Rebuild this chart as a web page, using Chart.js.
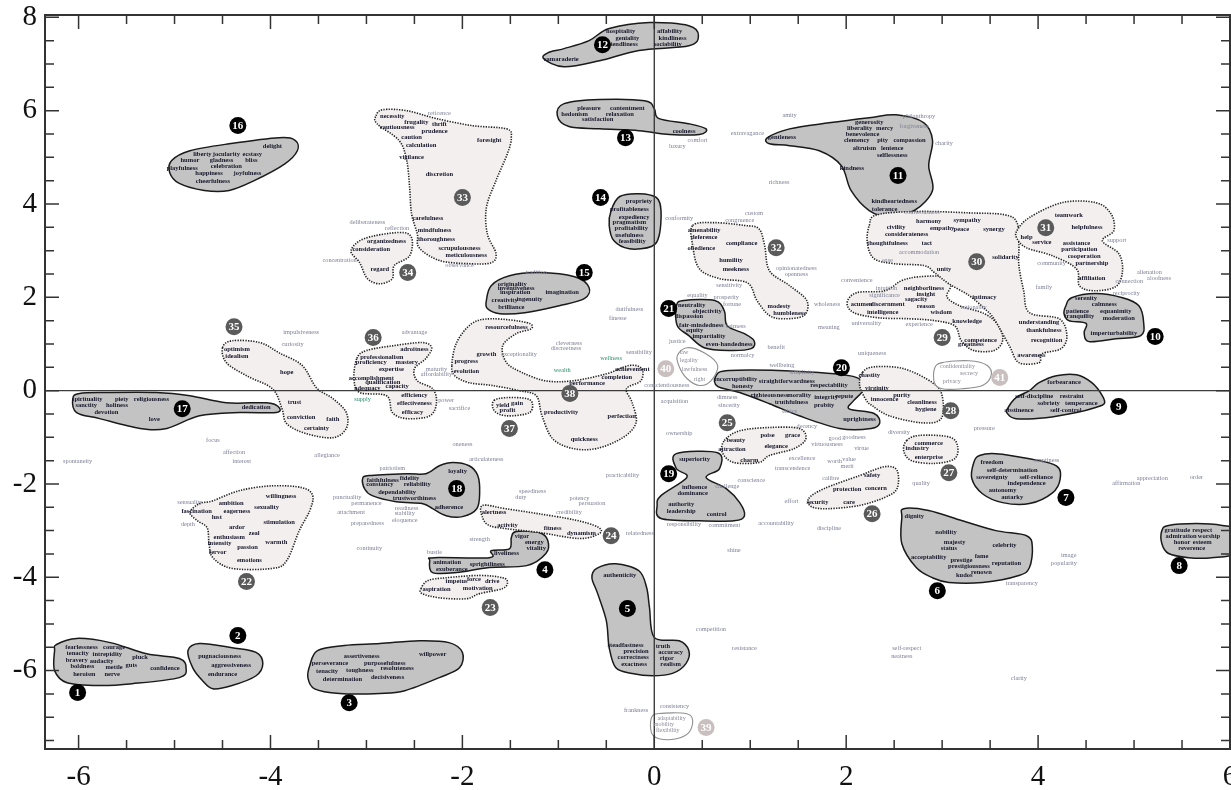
<!DOCTYPE html>
<html>
<head>
<meta charset="utf-8">
<script src="https://cdn.jsdelivr.net/npm/chart.js@4.4.1/dist/chart.umd.min.js"></script>
<style>
html,body{margin:0;padding:0;background:#fff;overflow:hidden}
canvas{display:block}
</style>
</head>
<body>
<canvas id="map" width="1231" height="790"></canvas>
<script>
// axis ranges and tick labels
const xRange = [-6.35, 6.0];
const yRange = [-7.68, 8.05];
const xTicks = [-6, -4, -2, 0, 2, 4, 6];
const yTicks = [-6, -4, -2, 0, 2, 4, 6, 8];

// cluster badges (number, x, y)
const badgeNumbers = [1,2,3,4,5,6,7,8,9,10,11,12,13,14,15,16,17,18,19,20,21,22,23,24,25,26,27,28,29,30,31,32,33,34,35,36,37,38,39,40,41];
const badgeX = [-6.01,-4.34,-3.18,-1.14,-0.28,2.95,4.29,5.47,4.84,5.22,2.54,-0.54,-0.30,-0.56,-0.73,-4.34,-4.92,-2.06,0.15,1.95,0.15,-4.25,-1.71,-0.45,0.76,2.27,3.07,3.09,3.00,3.36,4.08,1.27,-2.00,-2.57,-4.38,-2.93,-1.51,-0.88,0.54,0.12,3.60];
const badgeY = [-6.47,-5.25,-6.69,-3.84,-4.67,-4.29,-2.29,-3.75,-0.34,1.16,4.61,7.41,5.42,4.14,2.53,5.68,-0.39,-2.10,-1.78,0.49,1.76,-4.09,-4.65,-3.11,-0.69,-2.64,-1.76,-0.43,1.14,2.76,3.49,3.06,4.14,2.53,1.37,1.14,-0.81,-0.06,-7.22,0.47,0.28];

// cluster outlines in data units
const outline1 = [[-6.23,-5.44],[-6.02,-5.31],[-5.67,-5.40],[-5.29,-5.64],[-4.95,-5.74],[-4.88,-5.94],[-4.95,-6.15],[-5.44,-6.28],[-5.78,-6.32],[-6.12,-6.26],[-6.25,-6.00],[-6.25,-5.57]];
const outline2 = [[-4.86,-5.57],[-4.74,-5.42],[-4.40,-5.51],[-4.15,-5.61],[-4.08,-5.85],[-4.15,-6.11],[-4.40,-6.32],[-4.60,-6.39],[-4.71,-6.21],[-4.81,-5.94]];
const outline3 = [[-3.59,-5.89],[-3.51,-5.57],[-3.23,-5.46],[-2.86,-5.42],[-2.45,-5.36],[-2.14,-5.40],[-2.00,-5.61],[-2.03,-5.94],[-2.24,-6.15],[-2.60,-6.43],[-2.86,-6.49],[-3.28,-6.49],[-3.54,-6.39],[-3.61,-6.15]];
const outline4 = [[-2.34,-3.64],[-2.29,-3.58],[-1.72,-3.58],[-1.70,-3.43],[-1.51,-3.39],[-1.49,-3.15],[-1.44,-3.02],[-1.20,-3.04],[-1.11,-3.21],[-1.13,-3.49],[-1.33,-3.75],[-1.72,-3.79],[-2.06,-3.90],[-2.31,-3.90]];
const outline5 = [[-0.60,-3.81],[-0.40,-3.71],[-0.16,-3.86],[-0.08,-4.22],[-0.05,-4.65],[0.00,-5.29],[0.26,-5.36],[0.36,-5.57],[0.33,-5.85],[0.19,-6.06],[-0.02,-6.11],[-0.23,-6.06],[-0.40,-5.94],[-0.47,-5.51],[-0.50,-4.93],[-0.59,-4.35],[-0.65,-4.01]];
const outline6 = [[2.60,-2.53],[2.86,-2.57],[3.21,-2.79],[3.56,-3.00],[3.88,-3.11],[3.94,-3.36],[3.91,-3.79],[3.80,-3.96],[3.42,-4.11],[3.07,-4.11],[2.90,-4.01],[2.73,-3.79],[2.58,-3.28],[2.58,-2.72]];
const outline7 = [[3.39,-1.39],[3.56,-1.35],[3.91,-1.46],[4.19,-1.61],[4.23,-1.89],[4.15,-2.19],[3.91,-2.42],[3.63,-2.40],[3.42,-2.21],[3.31,-1.89],[3.33,-1.54]];
const outline8 = [[5.29,-3.00],[5.36,-2.89],[5.65,-2.85],[5.92,-2.89],[6.08,-3.00],[6.08,-3.47],[5.81,-3.58],[5.57,-3.58],[5.36,-3.49],[5.29,-3.28]];
const outline9 = [[3.68,-0.39],[3.77,-0.15],[3.91,0.00],[4.01,0.17],[4.19,0.32],[4.40,0.34],[4.56,0.17],[4.67,-0.11],[4.69,-0.28],[4.60,-0.36],[4.40,-0.47],[4.08,-0.58],[3.77,-0.60],[3.68,-0.49]];
const outline10 = [[4.29,1.82],[4.35,1.99],[4.60,2.08],[4.88,1.99],[5.05,1.82],[5.10,1.46],[5.07,1.18],[4.81,1.11],[4.53,1.05],[4.48,1.24],[4.50,1.44],[4.32,1.50],[4.27,1.65]];
const outline11 = [[1.18,5.42],[1.41,5.61],[1.82,5.74],[2.24,5.85],[2.52,5.91],[2.81,5.74],[2.90,5.36],[2.86,4.82],[2.90,4.29],[2.71,3.86],[2.45,3.73],[2.24,3.86],[2.05,4.29],[1.95,4.82],[1.72,5.14],[1.41,5.25],[1.20,5.29]];
const outline12 = [[-1.15,7.11],[-0.94,6.94],[-0.57,7.07],[-0.16,7.29],[0.36,7.39],[0.46,7.61],[0.36,7.82],[-0.05,7.89],[-0.47,7.76],[-0.68,7.50],[-0.94,7.33],[-1.11,7.24]];
const outline13 = [[-1.01,5.89],[-0.94,6.15],[-0.57,6.24],[-0.10,6.21],[0.00,6.04],[0.05,5.83],[0.36,5.72],[0.54,5.61],[0.47,5.49],[0.16,5.49],[-0.16,5.57],[-0.57,5.61],[-0.89,5.66]];
const outline14 = [[-0.45,3.86],[-0.36,4.16],[-0.16,4.22],[0.02,4.14],[0.07,3.86],[0.05,3.32],[-0.03,3.09],[-0.26,3.04],[-0.42,3.21],[-0.47,3.54]];
const outline15 = [[-1.75,1.93],[-1.70,2.25],[-1.51,2.46],[-1.20,2.53],[-0.83,2.44],[-0.68,2.21],[-0.73,1.97],[-0.99,1.82],[-1.35,1.67],[-1.61,1.65],[-1.74,1.76]];
const outline16 = [[-5.03,4.93],[-4.84,5.14],[-4.43,5.29],[-3.91,5.42],[-3.74,5.36],[-3.72,5.14],[-3.85,4.86],[-4.17,4.50],[-4.43,4.29],[-4.69,4.29],[-4.95,4.44],[-5.05,4.67]];
const outline17 = [[-6.06,-0.17],[-5.99,-0.06],[-5.71,-0.04],[-5.19,-0.04],[-4.84,-0.11],[-4.46,-0.26],[-4.04,-0.26],[-3.92,-0.34],[-3.94,-0.47],[-4.32,-0.47],[-4.74,-0.54],[-5.08,-0.81],[-5.36,-0.81],[-5.78,-0.60],[-6.02,-0.47]];
const outline18 = [[-3.04,-1.89],[-2.97,-1.82],[-2.58,-1.78],[-2.38,-1.78],[-2.24,-1.61],[-2.10,-1.54],[-1.93,-1.61],[-1.84,-1.82],[-1.82,-2.19],[-1.85,-2.53],[-2.00,-2.70],[-2.17,-2.68],[-2.31,-2.53],[-2.42,-2.42],[-2.69,-2.38],[-2.94,-2.25],[-3.02,-2.10]];
const outline19 = [[0.23,-1.35],[0.66,-1.33],[0.68,-1.67],[0.54,-1.86],[0.75,-2.10],[0.89,-2.40],[0.94,-2.68],[0.83,-2.79],[0.47,-2.79],[0.07,-2.74],[0.03,-2.46],[0.07,-2.25],[0.34,-1.86],[0.23,-1.67]];
const outline20 = [[0.64,0.30],[0.78,0.43],[1.51,0.41],[2.08,0.30],[2.18,0.04],[2.08,-0.21],[2.03,-0.39],[2.29,-0.49],[2.35,-0.69],[2.26,-0.81],[1.93,-0.81],[1.51,-0.54],[1.20,-0.28],[0.89,-0.04],[0.66,0.09]];
const outline21 = [[0.23,1.82],[0.31,1.93],[0.63,1.93],[0.73,1.71],[0.76,1.39],[0.94,1.22],[1.04,1.07],[1.01,0.90],[0.78,0.86],[0.52,0.92],[0.36,1.18],[0.24,1.39]];
const outline22 = [[-4.84,-2.61],[-4.74,-2.42],[-4.60,-2.36],[-4.32,-2.14],[-3.98,-2.04],[-3.67,-2.08],[-3.56,-2.25],[-3.59,-2.57],[-3.70,-3.00],[-3.83,-3.64],[-3.98,-3.81],[-4.40,-3.81],[-4.60,-3.58],[-4.64,-3.28],[-4.66,-2.94],[-4.76,-2.79]];
const outline23 = [[-2.43,-4.24],[-2.36,-4.07],[-2.17,-4.01],[-1.82,-3.96],[-1.58,-4.01],[-1.53,-4.11],[-1.58,-4.24],[-1.82,-4.35],[-1.96,-4.46],[-2.24,-4.44],[-2.42,-4.35]];
const outline24 = [[-1.79,-2.46],[-1.55,-2.53],[-1.20,-2.64],[-0.83,-2.77],[-0.59,-2.92],[-0.57,-3.06],[-0.78,-3.17],[-1.20,-3.04],[-1.54,-2.96],[-1.72,-2.89],[-1.79,-2.72]];
const outline25 = [[0.73,-1.07],[0.89,-0.86],[1.20,-0.79],[1.51,-0.81],[1.58,-1.03],[1.46,-1.24],[1.20,-1.39],[1.09,-1.54],[0.83,-1.54],[0.71,-1.33]];
const outline26 = [[1.61,-2.31],[1.77,-2.10],[2.14,-1.82],[2.40,-1.63],[2.53,-1.71],[2.53,-2.10],[2.40,-2.29],[2.14,-2.46],[1.82,-2.53],[1.64,-2.49]];
const outline27 = [[2.63,-1.07],[2.76,-0.96],[3.07,-0.99],[3.16,-1.18],[3.13,-1.46],[2.92,-1.56],[2.68,-1.50],[2.60,-1.29]];
const outline28 = [[2.17,0.39],[2.29,0.51],[2.60,0.47],[2.90,0.17],[3.00,-0.11],[2.99,-0.60],[2.79,-0.69],[2.45,-0.54],[2.27,-0.32],[2.21,-0.21],[2.14,0.11]];
const outline29 = [[2.01,1.89],[2.11,2.10],[2.40,2.14],[2.58,2.36],[2.76,2.44],[3.02,2.44],[3.09,2.25],[3.05,2.01],[3.18,1.82],[3.44,1.65],[3.59,1.39],[3.63,1.07],[3.54,0.86],[3.33,0.86],[3.20,1.07],[3.13,1.39],[2.92,1.50],[2.66,1.54],[2.34,1.56],[2.08,1.67]];
const outline30 = [[2.24,3.54],[2.32,3.77],[2.76,3.84],[3.28,3.81],[3.65,3.77],[3.78,3.60],[3.80,3.11],[3.80,2.68],[3.85,2.14],[3.91,1.67],[4.22,1.54],[4.30,1.18],[4.24,0.90],[4.04,0.79],[4.01,0.60],[3.80,0.60],[3.70,0.96],[3.54,1.54],[3.44,1.76],[3.28,2.04],[3.07,2.29],[2.92,2.53],[2.81,2.68],[2.50,2.72],[2.29,2.83],[2.22,3.17]];
const outline31 = [[3.78,3.43],[3.91,3.71],[4.25,4.03],[4.60,4.03],[4.76,3.79],[4.79,3.43],[4.67,3.21],[4.84,2.94],[4.88,2.57],[4.81,2.23],[4.58,2.14],[4.43,2.25],[4.40,2.61],[4.15,2.89],[3.88,3.06],[3.78,3.26]];
const outline32 = [[0.40,3.54],[0.63,3.60],[0.94,3.54],[1.09,3.47],[1.15,3.11],[1.20,2.57],[1.41,2.25],[1.59,1.93],[1.56,1.61],[1.35,1.54],[1.20,1.61],[1.07,1.93],[0.97,2.31],[0.68,2.40],[0.47,2.61],[0.40,3.11]];
const outline33 = [[-2.90,5.89],[-2.83,6.02],[-2.58,6.00],[-2.27,5.83],[-1.90,5.68],[-1.54,5.61],[-1.49,5.42],[-1.53,5.08],[-1.65,4.50],[-1.75,3.92],[-1.74,3.36],[-1.65,2.94],[-1.70,2.74],[-1.93,2.72],[-2.24,2.79],[-2.45,3.06],[-2.47,3.36],[-2.53,3.79],[-2.55,4.35],[-2.58,4.93],[-2.66,5.36],[-2.89,5.72]];
const outline34 = [[-3.16,3.00],[-3.02,3.26],[-2.66,3.39],[-2.53,3.28],[-2.55,2.89],[-2.71,2.68],[-2.73,2.40],[-2.86,2.29],[-2.99,2.40],[-3.07,2.74]];
const outline35 = [[-4.50,0.92],[-4.40,1.07],[-4.11,1.03],[-3.91,0.81],[-3.67,0.54],[-3.52,0.06],[-3.35,-0.17],[-3.21,-0.47],[-3.21,-0.81],[-3.35,-1.01],[-3.63,-0.92],[-3.83,-0.71],[-3.88,-0.39],[-3.98,0.04],[-4.25,0.32],[-4.46,0.60]];
const outline36 = [[-3.10,0.69],[-3.00,0.86],[-2.73,0.96],[-2.42,1.03],[-2.32,0.92],[-2.38,0.69],[-2.50,0.47],[-2.47,0.21],[-2.31,0.04],[-2.27,-0.26],[-2.34,-0.54],[-2.58,-0.60],[-2.73,-0.47],[-2.79,-0.11],[-3.07,-0.04],[-3.13,0.26]];
const outline37 = [[-1.67,-0.21],[-1.54,-0.15],[-1.33,-0.17],[-1.27,-0.28],[-1.30,-0.47],[-1.48,-0.54],[-1.61,-0.51],[-1.68,-0.39]];
const outline38 = [[-2.11,0.54],[-2.06,1.03],[-1.90,1.44],[-1.69,1.54],[-1.33,1.46],[-1.28,1.33],[-1.44,1.22],[-1.58,0.96],[-1.54,0.60],[-1.38,0.39],[-1.13,0.21],[-0.85,0.21],[-0.50,0.36],[-0.26,0.54],[-0.13,0.47],[-0.14,0.21],[-0.29,0.04],[-0.23,-0.26],[-0.19,-0.69],[-0.33,-1.01],[-0.60,-1.24],[-0.85,-1.24],[-1.06,-1.03],[-1.17,-0.54],[-1.23,-0.11],[-1.41,0.00],[-1.69,0.11],[-1.93,0.17],[-2.08,0.32]];
const outline39 = [[-0.03,-7.01],[0.05,-6.92],[0.33,-6.92],[0.40,-7.07],[0.36,-7.33],[0.23,-7.46],[0.05,-7.46],[-0.03,-7.33]];
const outline40 = [[0.24,0.75],[0.34,0.92],[0.52,0.81],[0.66,0.54],[0.59,0.21],[0.47,0.11],[0.34,0.26],[0.26,0.51]];
const outline41 = [[2.92,0.47],[3.00,0.60],[3.28,0.64],[3.47,0.54],[3.51,0.32],[3.42,0.11],[3.21,0.04],[3.00,0.04],[2.92,0.17]];

// words inside each cluster: [word, x, y]
const words1 = [["fearlessness",-5.97,-5.51],["courage",-5.63,-5.51],["tenacity",-6.01,-5.64],["intrepidity",-5.70,-5.66],["bravery",-6.02,-5.79],["audacity",-5.76,-5.81],["pluck",-5.36,-5.72],["boldness",-5.96,-5.91],["mettle",-5.63,-5.94],["guts",-5.45,-5.89],["confidence",-5.10,-5.96],["heroism",-5.94,-6.09],["nerve",-5.65,-6.09]];
const words2 = [["pugnaciousness",-4.53,-5.70],["aggressiveness",-4.41,-5.89],["endurance",-4.50,-6.09]];
const words3 = [["assertiveness",-3.05,-5.70],["willpower",-2.31,-5.66],["perseverance",-3.38,-5.85],["purposefulness",-2.81,-5.85],["tenacity",-3.41,-6.02],["toughness",-3.07,-6.00],["resoluteness",-2.68,-5.96],["determination",-3.25,-6.19],["decisiveness",-2.78,-6.15]];
const words4 = [["vigor",-1.38,-3.13],["energy",-1.25,-3.26],["vitality",-1.23,-3.39],["liveliness",-1.54,-3.49],["animation",-2.16,-3.69],["exuberance",-2.11,-3.84],["sprightliness",-1.74,-3.73]];
const words5 = [["authenticity",-0.36,-3.96],["steadfastness",-0.30,-5.46],["precision",-0.19,-5.59],["truth",0.09,-5.49],["accuracy",0.17,-5.61],["correctness",-0.22,-5.72],["rigor",0.13,-5.74],["exactness",-0.21,-5.87],["realism",0.17,-5.87]];
const words6 = [["dignity",2.71,-2.70],["nobility",3.04,-3.04],["majesty",3.13,-3.26],["status",3.07,-3.39],["celebrity",3.65,-3.32],["acceptability",2.86,-3.58],["prestige",3.20,-3.64],["fame",3.41,-3.56],["reputation",3.67,-3.71],["prestigiousness",3.28,-3.77],["kudos",3.23,-3.96],["renown",3.41,-3.90]];
const words7 = [["freedom",3.52,-1.54],["self-determination",3.73,-1.71],["sovereignty",3.52,-1.86],["self-reliance",3.98,-1.86],["independence",3.88,-1.99],["autonomy",3.63,-2.14],["autarky",3.73,-2.29]];
const words8 = [["gratitude",5.45,-3.00],["respect",5.71,-3.00],["admiration",5.49,-3.13],["worship",5.78,-3.13],["honor",5.50,-3.26],["esteem",5.71,-3.26],["reverence",5.60,-3.39]];
const words9 = [["forbearance",4.27,0.17],["self-discipline",3.96,-0.13],["restraint",4.35,-0.13],["sobriety",4.11,-0.28],["temperance",4.45,-0.28],["abstinence",3.80,-0.43],["self-control",4.29,-0.43]];
const words10 = [["serenity",4.50,1.97],["calmness",4.69,1.84],["patience",4.41,1.71],["equanimity",4.81,1.71],["tranquility",4.43,1.59],["moderation",4.84,1.54],["imperturbability",4.79,1.22]];
const words11 = [["generosity",2.24,5.74],["liberality",2.14,5.62],["mercy",2.40,5.62],["benevolence",2.17,5.49],["clemency",2.11,5.36],["pity",2.38,5.36],["compassion",2.66,5.36],["altruism",2.19,5.19],["lenience",2.48,5.19],["selflessness",2.48,5.04],["kindness",2.06,4.76],["gentleness",1.33,5.42],["kindheartedness",2.50,4.05],["tolerance",2.40,3.88]];
const words12 = [["camaraderie",-0.97,7.11],["hospitality",-0.35,7.69],["affability",0.16,7.71],["geniality",-0.28,7.56],["kindliness",0.19,7.56],["friendliness",-0.34,7.43],["sociability",0.14,7.43]];
const words13 = [["pleasure",-0.68,6.06],["contentment",-0.28,6.06],["hedonism",-0.83,5.93],["relaxation",-0.36,5.93],["satisfaction",-0.59,5.81],["coolness",0.31,5.55]];
const words14 = [["propriety",-0.16,4.05],["profitableness",-0.26,3.88],["expediency",-0.21,3.71],["pragmatism",-0.26,3.60],["profitability",-0.24,3.47],["usefulness",-0.26,3.32],["feasibility",-0.23,3.19]];
const words15 = [["originality",-1.48,2.27],["inventiveness",-1.44,2.19],["inspiration",-1.45,2.10],["imagination",-0.96,2.10],["creativity",-1.56,1.93],["ingenuity",-1.30,1.95],["brilliance",-1.49,1.78]];
const words16 = [["delight",-3.98,5.23],["liberty",-4.71,5.06],["jocularity",-4.46,5.06],["ecstasy",-4.19,5.06],["humor",-4.84,4.93],["gladness",-4.51,4.93],["bliss",-4.20,4.93],["playfulness",-4.92,4.76],["celebration",-4.46,4.80],["happiness",-4.64,4.65],["joyfulness",-4.24,4.65],["cheerfulness",-4.60,4.48]];
const words17 = [["spirituality",-5.91,-0.19],["piety",-5.55,-0.19],["religiousness",-5.24,-0.19],["sanctity",-5.92,-0.32],["holiness",-5.60,-0.32],["devotion",-5.71,-0.47],["love",-5.21,-0.62],["dedication",-4.15,-0.36]];
const words18 = [["faithfulness",-2.83,-1.93],["fidelity",-2.55,-1.89],["constancy",-2.86,-2.01],["reliability",-2.47,-2.01],["loyalty",-2.05,-1.74],["dependability",-2.68,-2.19],["trustworthiness",-2.50,-2.31],["adherence",-2.14,-2.51]];
const words19 = [["superiority",0.42,-1.48],["influence",0.42,-2.08],["dominance",0.40,-2.21],["authority",0.28,-2.44],["leadership",0.28,-2.59],["control",0.65,-2.66]];
const words20 = [["incorruptibility",0.85,0.24],["honesty",0.92,0.09],["straightforwardness",1.38,0.19],["respectability",1.82,0.11],["righteousness",1.20,-0.09],["morality",1.51,-0.09],["integrity",1.79,-0.15],["repute",1.98,-0.13],["truthfulness",1.43,-0.26],["probity",1.77,-0.32],["uprightness",2.14,-0.62]];
const words21 = [["neutrality",0.39,1.82],["objectivity",0.55,1.69],["dispassion",0.36,1.59],["fair-mindedness",0.49,1.41],["equity",0.42,1.29],["impartiality",0.57,1.16],["even-handedness",0.78,0.99]];
const words22 = [["willingness",-3.89,-2.27],["ambition",-4.41,-2.42],["sexuality",-4.04,-2.51],["fascination",-4.77,-2.59],["eagerness",-4.35,-2.59],["lust",-4.56,-2.72],["stimulation",-3.91,-2.83],["ardor",-4.35,-2.94],["zeal",-4.17,-3.06],["enthusiasm",-4.43,-3.15],["intensity",-4.53,-3.28],["warmth",-3.94,-3.26],["passion",-4.24,-3.36],["fervor",-4.55,-3.47],["emotions",-4.22,-3.64]];
const words23 = [["aspiration",-2.27,-4.26],["impetus",-2.06,-4.09],["force",-1.88,-4.05],["drive",-1.69,-4.09],["motivation",-1.84,-4.24]];
const words24 = [["alertness",-1.67,-2.61],["activity",-1.53,-2.89],["fitness",-1.06,-2.96],["dynamism",-0.76,-3.06]];
const words25 = [["poise",1.18,-0.96],["grace",1.44,-0.96],["beauty",0.85,-1.07],["elegance",1.27,-1.20],["attraction",0.81,-1.26],["charm",0.99,-1.50]];
const words26 = [["safety",2.27,-1.82],["protection",2.01,-2.12],["security",1.70,-2.40],["care",2.03,-2.40],["concern",2.31,-2.10]];
const words27 = [["commerce",2.86,-1.14],["industry",2.74,-1.24],["enterprise",2.86,-1.44]];
const words28 = [["chastity",2.24,0.32],["virginity",2.32,0.06],["innocence",2.40,-0.19],["purity",2.58,-0.11],["cleanliness",2.79,-0.26],["hygiene",2.83,-0.39]];
const words29 = [["neighborliness",2.81,2.19],["insight",2.83,2.06],["sagacity",2.73,1.95],["acumen",2.16,1.84],["discernment",2.43,1.84],["reason",2.83,1.80],["intelligence",2.38,1.67],["wisdom",2.99,1.67],["knowledge",3.26,1.48],["competence",3.40,1.07],["greatness",3.30,0.99]];
const words30 = [["civility",2.52,3.49],["considerateness",2.63,3.36],["thoughtfulness",2.43,3.15],["tact",2.84,3.15],["harmony",2.86,3.62],["empathy",3.00,3.47],["sympathy",3.26,3.64],["peace",3.20,3.45],["synergy",3.54,3.45],["unity",3.02,2.61],["solidarity",3.66,2.85],["intimacy",3.44,1.99],["understanding",4.01,1.46],["thankfulness",4.06,1.29],["recognition",4.09,1.07],["awareness",3.93,0.75]];
const words31 = [["teamwork",4.32,3.75],["helpfulness",4.51,3.51],["help",3.88,3.28],["service",4.04,3.17],["assistance",4.40,3.15],["participation",4.43,3.02],["cooperation",4.48,2.87],["partnership",4.56,2.72],["affiliation",4.56,2.40]];
const words32 = [["amenability",0.52,3.43],["deference",0.52,3.28],["compliance",0.91,3.15],["obedience",0.49,3.04],["humility",0.80,2.79],["meekness",0.85,2.61],["modesty",1.30,1.80],["humbleness",1.41,1.65]];
const words33 = [["necessity",-2.73,5.87],["frugality",-2.48,5.74],["thrift",-2.24,5.70],["cautiousness",-2.68,5.64],["prudence",-2.29,5.55],["caution",-2.53,5.42],["calculation",-2.43,5.25],["foresight",-1.72,5.36],["vigilance",-2.53,4.99],["discretion",-2.24,4.63],["carefulness",-2.36,3.69],["mindfulness",-2.29,3.43],["thoroughness",-2.27,3.24],["scrupulousness",-2.03,3.06],["meticulousness",-1.96,2.91]];
const words34 = [["organizedness",-2.79,3.21],["consideration",-2.95,3.02],["regard",-2.86,2.59]];
const words35 = [["optimism",-4.35,0.88],["idealism",-4.35,0.73],["hope",-3.83,0.39],["trust",-3.75,-0.26],["conviction",-3.68,-0.58],["faith",-3.35,-0.62],["certainty",-3.52,-0.81]];
const words36 = [["adroitness",-2.50,0.88],["professionalism",-2.84,0.71],["proficiency",-2.95,0.60],["mastery",-2.58,0.60],["expertise",-2.74,0.45],["accomplishment",-2.95,0.26],["qualification",-2.83,0.17],["capacity",-2.68,0.09],["adequacy",-2.99,0.04],["efficiency",-2.50,-0.11],["effectiveness",-2.50,-0.28],["efficacy",-2.52,-0.47]];
const words37 = [["yield",-1.58,-0.32],["gain",-1.43,-0.28],["profit",-1.53,-0.43]];
const words38 = [["resourcefulness",-1.54,1.35],["growth",-1.75,0.77],["progress",-1.96,0.62],["evolution",-1.96,0.41],["achievement",-0.23,0.45],["completion",-0.39,0.28],["performance",-0.70,0.15],["productivity",-0.97,-0.47],["perfection",-0.34,-0.54],["quickness",-0.73,-1.05]];
const words39 = [["adaptability",0.18,-7.03],["mobility",0.10,-7.16],["flexibility",0.14,-7.29]];
const words40 = [["law",0.31,0.81],["legality",0.36,0.64],["lawfulness",0.42,0.45],["right",0.47,0.24]];
const words41 = [["confidentiality",3.16,0.51],["secrecy",3.28,0.36],["privacy",3.10,0.19]];

// words that belong to no cluster
const looseWords = [
  ["spontaneity",-6.01,-1.52],["impulsiveness",-3.68,1.24],["curiosity",-3.77,0.99],["focus",-4.60,-1.07],["affection",-4.38,-1.33],["interest",-4.30,-1.52],["allegiance",-3.41,-1.39],
  ["sensuality",-4.84,-2.40],["depth",-4.86,-2.87],
  ["advantage",-2.50,1.24],["maturity",-2.27,0.45],["affordability",-2.27,0.34],["power",-2.17,-0.21],["sacrifice",-2.03,-0.39],
  ["reticence",-2.24,5.94],["deliberateness",-2.99,3.60],["reflection",-2.68,3.47],["concentration",-3.28,2.79],["observance",-2.03,2.68],["tradition",-1.23,2.53],
  ["exceptionality",-1.41,0.77],["cleverness",-0.89,1.01],["discreetness",-0.92,0.90],["sensibility",-0.16,0.81],["dutifulness",-0.26,1.74],["finesse",-0.38,1.54],["conscientiousness",0.13,0.11],
  ["patriotism",-2.73,-1.67],["punctuality",-3.20,-2.29],["permanence",-3.00,-2.42],["attachment",-3.16,-2.61],["readiness",-2.58,-2.53],["stability",-2.60,-2.64],["eloquence",-2.60,-2.79],["preparedness",-2.99,-2.85],["continuity",-2.97,-3.39],["articulateness",-1.75,-1.48],["oneness",-2.00,-1.16],
  ["strength",-1.82,-3.19],["bustle",-2.29,-3.47],["credibility",-0.89,-2.61],["duty",-1.39,-2.29],["potency",-0.78,-2.31],["persuasion",-0.65,-2.42],["speediness",-1.27,-2.16],["practicability",-0.33,-1.82],["relatedness",-0.15,-3.06],
  ["consistency",0.21,-6.77],["frankness",-0.19,-6.86],["competition",0.59,-5.12],["resistance",0.94,-5.53],["self-respect",2.63,-5.53],["neatness",2.58,-5.70],["clarity",3.80,-6.17],
  ["comfort",0.45,5.36],["luxury",0.24,5.23],["amity",1.41,5.91],["extravagance",0.97,5.51],["richness",1.30,4.46],["philanthropy",2.76,5.87],["forgiveness",2.71,5.66],["charity",3.02,5.31],
  ["conformity",0.26,3.69],["congruence",0.89,3.64],["custom",1.04,3.79],["opinionatedness",1.48,2.61],["openness",1.48,2.49],["sensitivity",0.78,2.25],["equality",0.45,2.04],["prosperity",0.75,2.00],["fortune",0.81,1.84],["fairness",0.85,1.37],["justice",0.24,1.05],["benefit",1.27,0.92],["normalcy",0.92,0.75],["wellbeing",1.33,0.54],["simplicity",1.54,0.39],["uniqueness",2.27,0.79],["universality",2.21,1.44],["meaning",1.82,1.35],["wholeness",1.80,1.84],["convenience",2.11,2.36],["intuition",2.42,2.19],["significance",2.40,2.04],["experience",2.76,1.41],
  ["courteousness",2.79,3.82],["accommodation",2.76,2.96],["ease",2.43,2.79],["rationality",3.33,1.78],["community",4.14,2.72],["family",4.06,2.21],["support",4.82,3.21],["alienation",5.16,2.53],["aloofness",5.26,2.40],["connection",4.95,2.34],["reciprocity",4.92,2.08],
  ["dimness",0.76,-0.15],["sincerity",0.78,-0.32],["ethics",1.41,-0.45],["acquisition",0.21,-0.24],["ownership",0.26,-0.92],["decency",1.59,-0.77],["good",1.88,-1.03],["goodness",2.08,-1.01],["virtuousness",1.80,-1.16],["virtue",2.16,-1.24],["diversity",2.55,-0.90],["pressure",3.44,-0.81],
  ["excellence",1.54,-1.46],["worth",1.88,-1.52],["value",2.03,-1.48],["merit",2.01,-1.63],["transcendence",1.44,-1.67],["conscience",1.01,-1.93],["challenge",0.76,-2.06],["calibre",1.84,-1.89],["quality",2.78,-1.99],["effort",1.43,-2.38],["discipline",1.82,-2.96],["accountability",1.27,-2.85],["commitment",0.73,-2.89],["responsibility",0.31,-2.87],["shine",0.83,-3.43],
  ["emptiness",4.09,-1.50],["affirmation",4.92,-1.99],["appreciation",5.19,-1.89],["order",5.65,-1.86],["image",4.32,-3.54],["popularity",4.27,-3.71],["transparency",3.83,-4.14]
];
const greenWords = [["supply",-3.04,-0.19],["wealth",-0.96,0.43],["wellness",-0.45,0.69]];

const outlines = [outline1,outline2,outline3,outline4,outline5,outline6,outline7,outline8,outline9,outline10,outline11,outline12,outline13,outline14,outline15,outline16,outline17,outline18,outline19,outline20,outline21,outline22,outline23,outline24,outline25,outline26,outline27,outline28,outline29,outline30,outline31,outline32,outline33,outline34,outline35,outline36,outline37,outline38,outline39,outline40,outline41];
const clusterWords = [words1,words2,words3,words4,words5,words6,words7,words8,words9,words10,words11,words12,words13,words14,words15,words16,words17,words18,words19,words20,words21,words22,words23,words24,words25,words26,words27,words28,words29,words30,words31,words32,words33,words34,words35,words36,words37,words38,words39,words40,words41];

const toneOf = n => n <= 21 ? 'dark' : (n <= 38 ? 'light' : 'faint');
const blobFill = { dark: '#c3c3c3', light: '#f2efee', faint: '#ffffff' };
const badgeFill = { dark: '#000000', light: '#5a5a5a', faint: '#c9bfbf' };
const SERIF = '"Liberation Serif", "DejaVu Serif", serif';

// closed Catmull-Rom curve through pixel points
function blobPath(ctx, pts) {
    const n = pts.length;
    ctx.beginPath();
    ctx.moveTo(pts[0][0], pts[0][1]);
    for (let i = 0; i < n; i++) {
        const p0 = pts[(i - 1 + n) % n], p1 = pts[i], p2 = pts[(i + 1) % n], p3 = pts[(i + 2) % n];
        ctx.bezierCurveTo(
            p1[0] + (p2[0] - p0[0]) / 6, p1[1] + (p2[1] - p0[1]) / 6,
            p2[0] - (p3[0] - p1[0]) / 6, p2[1] - (p3[1] - p1[1]) / 6,
            p2[0], p2[1]);
    }
    ctx.closePath();
}

const mapPlugin = {
    id: 'semanticMap',
    beforeDatasetsDraw(chart) {
        const { ctx, chartArea: a, scales: { x, y } } = chart;
        const toPx = p => [x.getPixelForValue(p[0]), y.getPixelForValue(p[1])];
        ctx.save();
        ctx.beginPath();
        ctx.rect(a.left, a.top, a.right - a.left, a.bottom - a.top);
        ctx.clip();

        // cluster regions
        outlines.forEach((pts, i) => {
            const tone = toneOf(badgeNumbers[i]);
            blobPath(ctx, pts.map(toPx));
            ctx.fillStyle = blobFill[tone];
            ctx.fill();
            if (tone === 'dark') { ctx.setLineDash([]); ctx.strokeStyle = '#1a1a1a'; ctx.lineWidth = 1.5; }
            else if (tone === 'light') { ctx.setLineDash([1.3, 1.3]); ctx.strokeStyle = '#222'; ctx.lineWidth = 1.6; }
            else { ctx.setLineDash([]); ctx.strokeStyle = '#8f8f8f'; ctx.lineWidth = 1.1; }
            ctx.stroke();
        });
        ctx.setLineDash([]);

        // zero lines
        ctx.strokeStyle = '#3d3d3d';
        ctx.lineWidth = 1.4;
        ctx.beginPath();
        ctx.moveTo(x.getPixelForValue(0), a.top);
        ctx.lineTo(x.getPixelForValue(0), a.bottom);
        ctx.moveTo(a.left, y.getPixelForValue(0));
        ctx.lineTo(a.right, y.getPixelForValue(0));
        ctx.stroke();

        ctx.textAlign = 'center';
        ctx.textBaseline = 'middle';

        ctx.font = '6.3px ' + SERIF;
        ctx.fillStyle = '#7e8096';
        looseWords.forEach(w => ctx.fillText(w[0], x.getPixelForValue(w[1]), y.getPixelForValue(w[2])));
        ctx.fillStyle = '#2d8c6c';
        greenWords.forEach(w => ctx.fillText(w[0], x.getPixelForValue(w[1]), y.getPixelForValue(w[2])));

        clusterWords.forEach((list, i) => {
            const tone = toneOf(badgeNumbers[i]);
            if (tone === 'faint') { ctx.font = '6px ' + SERIF; ctx.fillStyle = '#8a8a98'; }
            else { ctx.font = 'bold 6.5px ' + SERIF; ctx.fillStyle = '#16162a'; }
            list.forEach(w => ctx.fillText(w[0], x.getPixelForValue(w[1]), y.getPixelForValue(w[2])));
        });
        ctx.restore();
    },
    afterDatasetsDraw(chart) {
        const { ctx } = chart;
        const meta = chart.getDatasetMeta(0);
        ctx.save();
        ctx.font = 'bold 11px ' + SERIF;
        ctx.fillStyle = '#ffffff';
        ctx.textAlign = 'center';
        ctx.textBaseline = 'middle';
        meta.data.forEach((pt, i) => ctx.fillText(String(badgeNumbers[i]), pt.x, pt.y + 0.5));
        ctx.restore();
    },
    afterDraw(chart) {
        const { ctx, chartArea: a, scales: { x, y } } = chart;
        ctx.save();
        // inward ticks on all four sides
        ctx.strokeStyle = '#333';
        ctx.lineWidth = 1.5;
        ctx.beginPath();
        for (let k = Math.ceil(x.min * 2); k <= Math.floor(x.max * 2); k++) {
            const len = k % 4 === 0 ? 14 : 9;
            const p = x.getPixelForValue(k / 2);
            ctx.moveTo(p, a.bottom); ctx.lineTo(p, a.bottom - len);
            ctx.moveTo(p, a.top); ctx.lineTo(p, a.top + len);
        }
        for (let k = Math.ceil(y.min * 2); k <= Math.floor(y.max * 2); k++) {
            const len = k % 4 === 0 ? 14 : 9;
            const p = y.getPixelForValue(k / 2);
            ctx.moveTo(a.left, p); ctx.lineTo(a.left + len, p);
            ctx.moveTo(a.right, p); ctx.lineTo(a.right - len, p);
        }
        ctx.stroke();
        ctx.lineWidth = 2;
        ctx.strokeRect(a.left, a.top, a.right - a.left, a.bottom - a.top);

        // x tick labels, placed by the x scale
        ctx.font = '29px ' + SERIF;
        ctx.fillStyle = '#111';
        ctx.textAlign = 'center';
        ctx.textBaseline = 'middle';
        xTicks.forEach(v => ctx.fillText(String(v), x.getPixelForValue(v), a.bottom + 28));
        ctx.restore();
    }
};

new Chart(document.getElementById('map'), {
    type: 'scatter',
    data: {
        datasets: [{
            data: badgeX.map((bx, i) => ({ x: bx, y: badgeY[i] })),
            pointRadius: 8.5,
            pointHoverRadius: 8.5,
            pointBackgroundColor: badgeNumbers.map(n => badgeFill[toneOf(n)]),
            pointBorderWidth: 0,
            clip: false
        }]
    },
    options: {
        responsive: false,
        devicePixelRatio: 1,
        animation: false,
        events: [],
        layout: { autoPadding: false, padding: { top: 15, right: 1, left: 0, bottom: 0 } },
        plugins: { legend: { display: false }, tooltip: { enabled: false } },
        scales: {
            x: {
                type: 'linear', min: xRange[0], max: xRange[1],
                grid: { display: false, drawTicks: false },
                border: { display: false },
                ticks: { display: false },
                afterBuildTicks: s => { s.ticks = xTicks.map(v => ({ value: v })); },
                afterFit: s => { s.height = 41; s.paddingLeft = 0; s.paddingRight = 0; }
            },
            y: {
                type: 'linear', min: yRange[0], max: yRange[1],
                grid: { display: false, drawTicks: false },
                border: { display: false },
                ticks: { font: { family: SERIF, size: 29 }, color: '#111', padding: 8, autoSkip: false },
                afterBuildTicks: s => { s.ticks = yTicks.map(v => ({ value: v })); },
                afterFit: s => { s.width = 45; s.paddingTop = 0; s.paddingBottom = 0; }
            }
        }
    },
    plugins: [mapPlugin]
});
</script>
</body>
</html>
